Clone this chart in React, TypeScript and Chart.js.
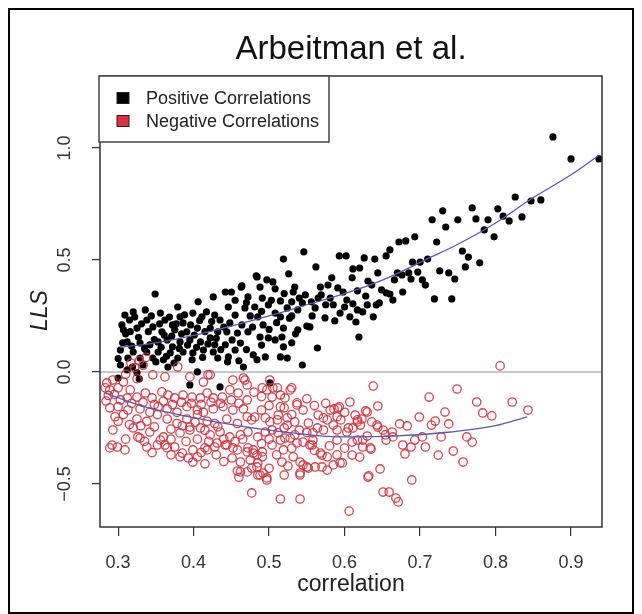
import React, { useEffect, useRef } from "react";
import { Chart, registerables } from "chart.js";

Chart.register(...registerables);

// ---------- data ----------
const X_MIN = 0.276;
const X_MAX = 0.941;
const Y_MIN = -0.692;
const Y_MAX = 1.321;
const X_TICK_STEP = 0.1;
const Y_TICK_STEP = 0.5;

const titleText = "Arbeitman et al.";
const xLabel = "correlation";
const yLabel = "LLS";
const legendLabels = ["Positive Correlations", "Negative Correlations"];

const positivePoints: [number, number][] = [
  [0.876,1.049],[0.900,0.951],[0.937,0.951],[0.826,0.781],[0.847,0.763],[0.860,0.768],[0.730,0.719],[0.769,0.732],
  [0.803,0.728],[0.716,0.679],[0.750,0.679],[0.774,0.683],[0.790,0.679],[0.810,0.696],[0.818,0.674],[0.835,0.692],
  [0.734,0.647],[0.785,0.634],[0.798,0.603],[0.672,0.580],[0.681,0.585],[0.693,0.603],[0.722,0.580],[0.660,0.545],
  [0.655,0.518],[0.626,0.509],[0.640,0.504],[0.756,0.540],[0.764,0.513],[0.779,0.487],[0.760,0.469],[0.690,0.490],
  [0.700,0.490],[0.710,0.504],[0.611,0.460],[0.620,0.464],[0.644,0.442],[0.670,0.442],[0.676,0.433],[0.685,0.442],
  [0.697,0.446],[0.726,0.451],[0.738,0.442],[0.746,0.415],[0.666,0.411],[0.688,0.415],[0.703,0.411],[0.707,0.388],
  [0.610,0.420],[0.631,0.406],[0.636,0.388],[0.617,0.362],[0.628,0.339],[0.649,0.366],[0.655,0.353],[0.660,0.348],
  [0.677,0.357],[0.664,0.321],[0.646,0.308],[0.611,0.304],[0.630,0.299],[0.642,0.299],[0.624,0.268],[0.638,0.246],
  [0.607,0.246],[0.615,0.223],[0.619,0.156],[0.719,0.326],[0.742,0.326],
  [0.546,0.536],[0.519,0.504],[0.593,0.518],[0.602,0.518],[0.562,0.469],[0.526,0.438],[0.484,0.424],[0.497,0.411],
  [0.505,0.402],[0.583,0.420],[0.463,0.379],[0.450,0.357],[0.488,0.379],[0.508,0.371],[0.534,0.379],[0.532,0.357],
  [0.548,0.344],[0.568,0.379],[0.578,0.388],[0.591,0.375],[0.598,0.357],[0.569,0.344],[0.581,0.330],[0.603,0.321],
  [0.472,0.335],[0.491,0.330],[0.515,0.317],[0.530,0.313],[0.544,0.308],[0.556,0.313],[0.446,0.290],[0.468,0.286],
  [0.481,0.290],[0.499,0.299],[0.524,0.286],[0.538,0.277],[0.561,0.286],[0.594,0.263],[0.617,0.277],[0.455,0.254],
  [0.475,0.250],[0.485,0.246],[0.508,0.263],[0.515,0.246],[0.530,0.250],[0.574,0.241],[0.587,0.228],[0.448,0.219],
  [0.464,0.210],[0.492,0.210],[0.519,0.196],[0.538,0.188],[0.550,0.205],[0.554,0.201],[0.444,0.179],[0.458,0.174],
  [0.472,0.179],[0.488,0.156],[0.499,0.152],[0.508,0.143],[0.517,0.156],[0.451,0.143],[0.462,0.129],[0.519,0.112],
  [0.442,0.121],[0.455,0.098],[0.479,0.076],[0.495,0.067],[0.515,0.067],[0.524,0.062],[0.446,0.067],[0.484,0.054],
  [0.564,0.107],[0.544,0.031],[0.466,0.022],[0.483,0.429],[0.464,0.384],
  [0.349,0.348],[0.379,0.290],[0.406,0.313],[0.426,0.335],[0.442,0.357],[0.320,0.268],[0.309,0.254],[0.315,0.232],
  [0.336,0.277],[0.338,0.232],[0.356,0.263],[0.362,0.232],[0.372,0.210],[0.382,0.246],[0.386,0.219],[0.399,0.263],
  [0.411,0.246],[0.417,0.268],[0.428,0.254],[0.435,0.232],[0.307,0.188],[0.325,0.196],[0.346,0.201],[0.358,0.179],
  [0.375,0.188],[0.391,0.179],[0.405,0.196],[0.422,0.196],[0.432,0.179],[0.312,0.134],[0.329,0.129],[0.342,0.121],
  [0.353,0.134],[0.365,0.143],[0.372,0.112],[0.382,0.134],[0.395,0.143],[0.409,0.134],[0.422,0.152],[0.428,0.121],
  [0.303,0.098],[0.320,0.089],[0.338,0.089],[0.353,0.089],[0.369,0.085],[0.386,0.089],[0.399,0.085],[0.413,0.098],
  [0.426,0.089],[0.313,0.062],[0.329,0.062],[0.346,0.062],[0.360,0.054],[0.379,0.062],[0.398,0.054],[0.432,0.062],
  [0.303,0.031],[0.319,0.022],[0.333,0.031],[0.366,0.022],[0.405,0.000],[0.312,0.009],[0.325,-0.004],[0.300,-0.027],
  [0.328,-0.031],[0.395,-0.058],[0.435,-0.067],[0.501,-0.049],
  [0.305,0.210],[0.310,0.170],[0.318,0.115],[0.322,0.245],[0.327,0.155],[0.331,0.215],[0.335,0.105],[0.340,0.180],
  [0.344,0.250],[0.348,0.145],[0.350,0.045],[0.355,0.215],[0.357,0.110],[0.361,0.165],[0.364,0.070],[0.368,0.245],
  [0.371,0.160],[0.374,0.040],[0.377,0.215],[0.381,0.105],[0.384,0.170],[0.388,0.255],[0.392,0.120],[0.396,0.210],
  [0.401,0.165],[0.404,0.110],[0.408,0.230],[0.412,0.065],[0.415,0.180],[0.419,0.125],[0.424,0.225],[0.430,0.150],
  [0.436,0.100],[0.440,0.200],[0.445,0.045],[0.300,0.060],[0.306,0.130],[0.316,0.180],
  [0.470,0.310],[0.478,0.200],[0.490,0.270],[0.503,0.320],[0.510,0.220],[0.520,0.350],[0.527,0.240],[0.535,0.170],
  [0.540,0.330],[0.557,0.250],[0.565,0.330],[0.575,0.300],[0.585,0.300],[0.600,0.290],[0.455,0.320],[0.500,0.190],
  [0.490,0.120],[0.530,0.130],[0.470,0.100],[0.460,0.050],
];

const negativePoints: [number, number][] = [
  [0.806,0.027],[0.638,-0.063],[0.749,-0.076],[0.712,-0.112],[0.775,-0.134],[0.822,-0.134],[0.843,-0.170],[0.783,-0.183],
  [0.795,-0.196],[0.733,-0.179],[0.607,-0.134],[0.644,-0.152],[0.628,-0.174],[0.699,-0.201],[0.720,-0.219],[0.715,-0.237],
  [0.738,-0.232],[0.617,-0.214],[0.623,-0.210],[0.611,-0.250],[0.636,-0.223],[0.643,-0.237],[0.673,-0.232],[0.683,-0.241],
  [0.663,-0.268],[0.651,-0.259],[0.630,-0.286],[0.617,-0.304],[0.655,-0.304],[0.693,-0.304],[0.703,-0.290],[0.728,-0.290],
  [0.762,-0.290],[0.769,-0.313],[0.624,-0.335],[0.635,-0.344],[0.677,-0.326],[0.688,-0.335],[0.707,-0.335],[0.610,-0.371],
  [0.680,-0.366],[0.724,-0.371],[0.744,-0.353],[0.757,-0.402],[0.647,-0.433],[0.632,-0.464],[0.689,-0.482],[0.651,-0.536],
  [0.659,-0.536],[0.668,-0.563],[0.671,-0.580],[0.606,-0.621],
  [0.501,-0.036],[0.491,-0.071],[0.497,-0.080],[0.505,-0.071],[0.468,-0.036],[0.530,-0.071],[0.471,-0.125],[0.504,-0.112],
  [0.515,-0.103],[0.521,-0.116],[0.537,-0.147],[0.545,-0.170],[0.565,-0.192],[0.586,-0.165],[0.593,-0.156],[0.614,-0.192],
  [0.630,-0.179],[0.481,-0.201],[0.477,-0.214],[0.495,-0.205],[0.501,-0.223],[0.512,-0.192],[0.524,-0.237],[0.534,-0.223],
  [0.552,-0.228],[0.577,-0.214],[0.585,-0.237],[0.595,-0.214],[0.605,-0.250],[0.621,-0.237],[0.644,-0.246],[0.654,-0.281],
  [0.664,-0.290],[0.472,-0.268],[0.485,-0.290],[0.495,-0.268],[0.512,-0.272],[0.521,-0.295],[0.534,-0.281],[0.545,-0.313],
  [0.557,-0.326],[0.558,-0.304],[0.590,-0.304],[0.610,-0.313],[0.624,-0.304],[0.634,-0.339],[0.570,-0.371],[0.585,-0.415],
  [0.597,-0.406],[0.472,-0.339],[0.479,-0.362],[0.491,-0.357],[0.517,-0.402],[0.545,-0.415],[0.552,-0.429],[0.577,-0.438],
  [0.477,-0.429],[0.485,-0.460],[0.497,-0.482],[0.541,-0.460],[0.631,-0.469],[0.477,-0.540],[0.515,-0.567],[0.541,-0.567],
  [0.422,-0.013],[0.413,-0.045],[0.452,-0.036],[0.285,-0.049],[0.293,-0.036],[0.307,-0.045],[0.283,-0.071],[0.289,-0.080],
  [0.300,-0.071],[0.316,-0.080],[0.317,0.040],[0.322,0.020],[0.328,0.050],[0.333,0.030],[0.337,0.065],[0.310,-0.010],
  [0.325,-0.030],[0.312,-0.116],[0.325,-0.112],[0.336,-0.094],[0.345,-0.116],[0.358,-0.089],[0.366,-0.103],[0.375,-0.116],
  [0.386,-0.103],[0.398,-0.112],[0.409,-0.116],[0.418,-0.094],[0.426,-0.116],[0.438,-0.112],[0.448,-0.080],[0.459,-0.094],
  [0.471,-0.058],[0.289,-0.160],[0.300,-0.155],[0.313,-0.170],[0.329,-0.165],[0.342,-0.180],[0.353,-0.155],[0.365,-0.165],
  [0.378,-0.180],[0.391,-0.155],[0.405,-0.170],[0.413,-0.180],[0.426,-0.165],[0.439,-0.155],[0.452,-0.170],[0.466,-0.165],
  [0.296,-0.200],[0.307,-0.190],[0.325,-0.210],[0.338,-0.220],[0.352,-0.190],[0.365,-0.210],[0.378,-0.230],[0.391,-0.210],
  [0.405,-0.190],[0.418,-0.220],[0.428,-0.230],[0.444,-0.210],[0.458,-0.230],[0.471,-0.200],[0.395,-0.246],[0.293,-0.259],
  [0.320,-0.250],[0.326,-0.290],[0.342,-0.268],[0.360,-0.290],[0.382,-0.272],[0.395,-0.259],[0.409,-0.250],[0.422,-0.281],
  [0.435,-0.268],[0.448,-0.290],[0.462,-0.281],[0.292,-0.326],[0.299,-0.335],[0.309,-0.348],[0.338,-0.335],[0.352,-0.326],
  [0.365,-0.339],[0.385,-0.362],[0.399,-0.348],[0.418,-0.348],[0.428,-0.335],[0.442,-0.326],[0.458,-0.348],[0.471,-0.357],
  [0.382,-0.379],[0.393,-0.384],[0.399,-0.402],[0.451,-0.384],[0.462,-0.402],[0.458,-0.442],[0.471,-0.446],[0.346,-0.013],
  [0.362,-0.022],[0.379,0.022],[0.395,-0.022],[0.419,-0.013],[0.466,-0.027],[0.289,-0.339],[0.329,-0.295],[0.356,-0.304],
  [0.362,-0.326],[0.375,-0.335],[0.405,-0.379],[0.415,-0.339],[0.431,-0.317],[0.444,-0.326],[0.452,-0.339],[0.479,-0.348],
  [0.484,-0.371],[0.491,-0.379],[0.485,-0.406],[0.462,-0.446],[0.488,-0.460],[0.497,-0.473],[0.511,-0.071],[0.528,-0.080],
  [0.537,-0.138],[0.515,-0.156],[0.572,-0.205],[0.581,-0.170],[0.591,-0.161],[0.617,-0.223],[0.511,-0.214],[0.524,-0.205],
  [0.504,-0.259],[0.515,-0.304],[0.528,-0.295],[0.537,-0.317],[0.554,-0.326],[0.558,-0.272],[0.564,-0.250],[0.572,-0.259],
  [0.590,-0.259],[0.603,-0.268],[0.568,-0.362],[0.577,-0.379],[0.594,-0.406],[0.504,-0.326],[0.519,-0.348],[0.532,-0.379],
  [0.541,-0.402],[0.541,-0.451],[0.550,-0.424],[0.561,-0.424],[0.570,-0.424],[0.475,-0.393],[0.484,-0.424],[0.492,-0.451],
  [0.284,-0.130],[0.287,-0.105],
  [0.295,-0.100],[0.303,-0.125],[0.318,-0.140],[0.333,-0.135],[0.348,-0.145],[0.360,-0.130],[0.372,-0.145],[0.384,-0.135],
  [0.397,-0.140],[0.410,-0.145],[0.423,-0.135],[0.436,-0.140],[0.450,-0.125],[0.460,-0.140],[0.300,-0.220],[0.315,-0.235],
  [0.330,-0.240],[0.348,-0.245],[0.370,-0.255],[0.385,-0.240],[0.402,-0.225],[0.415,-0.260],[0.432,-0.245],[0.440,-0.300],
  [0.455,-0.310],[0.465,-0.300],[0.310,-0.300],[0.335,-0.310],[0.370,-0.300],[0.390,-0.310],[0.405,-0.300],[0.420,-0.310],
  [0.345,-0.360],[0.370,-0.370],[0.410,-0.360],[0.430,-0.370],[0.440,-0.400],[0.415,-0.410],[0.500,-0.150],[0.490,-0.110],
  [0.480,-0.090],[0.520,-0.160],[0.550,-0.120],[0.560,-0.150],[0.575,-0.140],[0.600,-0.180],[0.590,-0.200],[0.530,-0.190],
  [0.490,-0.170],[0.540,-0.260],[0.550,-0.270],[0.520,-0.250],[0.500,-0.300],[0.490,-0.320],[0.530,-0.340],[0.560,-0.350],
  [0.580,-0.330],[0.600,-0.340],[0.620,-0.380],[0.590,-0.370],[0.510,-0.370],[0.525,-0.420],[0.500,-0.430],[0.460,-0.470],
  [0.520,-0.460],
];

const positiveFit: [number, number][] = [
  [0.303,0.11],[0.35,0.13],[0.40,0.163],[0.45,0.205],[0.50,0.25],[0.55,0.30],[0.607,0.357],[0.65,0.41],
  [0.713,0.51],[0.75,0.57],[0.80,0.665],[0.846,0.77],[0.90,0.88],[0.936,0.965],
];

const negativeFit: [number, number][] = [
  [0.283,-0.094],[0.33,-0.15],[0.38,-0.19],[0.439,-0.228],[0.50,-0.26],[0.572,-0.286],[0.607,-0.29],
  [0.67,-0.285],[0.74,-0.268],[0.80,-0.24],[0.842,-0.2],
];

const zeroLine: [number, number][] = [[X_MIN, 0], [X_MAX, 0]];

// ---------- styling ----------
const FONT = "'Liberation Sans', Arial, Helvetica, sans-serif";
const RED = "rgba(212,45,60,0.9)";
const FIT = "rgb(88,88,185)";

const toXY = (arr: [number, number][]) => arr.map(([x, y]) => ({ x, y }));

const decorPlugin = {
  id: "rDecor",
  afterDraw(chart: any) {
    const { ctx, chartArea: a, scales } = chart;
    ctx.save();
    // plot box
    ctx.strokeStyle = "#333";
    ctx.lineWidth = 1.5;
    ctx.strokeRect(a.left, a.top, a.right - a.left, a.bottom - a.top);
    // outer frame
    ctx.strokeStyle = "#000";
    ctx.lineWidth = 2;
    ctx.strokeRect(1, 1, chart.width - 2, chart.height - 2);

    // title
    const cx = (a.left + a.right) / 2;
    ctx.fillStyle = "#111";
    ctx.font = `33px ${FONT}`;
    ctx.textAlign = "center";
    ctx.textBaseline = "alphabetic";
    ctx.fillText(titleText, cx, 51);

    // x label
    ctx.fillStyle = "#222";
    ctx.font = `23px ${FONT}`;
    ctx.fillText(xLabel, cx, 583);

    // y label (italic, rotated)
    ctx.save();
    ctx.translate(33, (a.top + a.bottom) / 2 + 9);
    ctx.rotate(-Math.PI / 2);
    ctx.font = `italic 23px ${FONT}`;
    ctx.textBaseline = "middle";
    ctx.fillText(yLabel, 0, 0);
    ctx.restore();

    // y tick labels, rotated like R
    const ys = scales.y;
    ctx.font = `18px ${FONT}`;
    ctx.fillStyle = "#333";
    for (const t of ys.ticks) {
      const py = ys.getPixelForValue(t.value);
      const txt = (t.value < 0 ? "\u2212" : "") + Math.abs(t.value).toFixed(1);
      ctx.save();
      ctx.translate(57, py);
      ctx.rotate(-Math.PI / 2);
      ctx.textAlign = "center";
      ctx.textBaseline = "middle";
      ctx.fillText(txt, 0, 0);
      ctx.restore();
    }

    // legend
    const lx = a.left - 1;
    const ly = a.top;
    ctx.fillStyle = "#fff";
    ctx.fillRect(lx, ly, 230, 66);
    ctx.strokeStyle = "#444";
    ctx.lineWidth = 1.5;
    ctx.strokeRect(lx, ly, 230, 66);
    const rows = [ly + 22, ly + 45];
    const fills = ["#000", "#e0303a"];
    ctx.font = `18px ${FONT}`;
    ctx.textAlign = "left";
    ctx.textBaseline = "middle";
    rows.forEach((ry, i) => {
      ctx.fillStyle = fills[i];
      ctx.fillRect(lx + 18, ry - 5.5, 12, 11);
      ctx.strokeStyle = "#222";
      ctx.lineWidth = 1;
      ctx.strokeRect(lx + 18, ry - 5.5, 12, 11);
      ctx.fillStyle = "#222";
      ctx.fillText(legendLabels[i], lx + 47, ry + 1);
    });
    ctx.restore();
  },
};

export default function App() {
  const canvasRef = useRef<HTMLCanvasElement | null>(null);

  useEffect(() => {
    if (!canvasRef.current) return;
    const chart = new Chart(canvasRef.current, {
      type: "scatter",
      data: {
        datasets: [
          {
            type: "line",
            label: "zero",
            data: toXY(zeroLine),
            borderColor: "#b4b4b4",
            borderWidth: 1.5,
            pointRadius: 0,
            showLine: true,
            order: 5,
          } as any,
          {
            label: legendLabels[0],
            data: toXY(positivePoints),
            backgroundColor: "#000",
            borderWidth: 0,
            pointRadius: 3.6,
            order: 4,
          },
          {
            label: legendLabels[1],
            data: toXY(negativePoints),
            backgroundColor: "rgba(0,0,0,0)",
            borderColor: RED,
            borderWidth: 1.3,
            pointRadius: 4.2,
            order: 3,
          },
          {
            type: "line",
            label: "fitPos",
            data: toXY(positiveFit),
            borderColor: FIT,
            borderWidth: 1.3,
            pointRadius: 0,
            showLine: true,
            cubicInterpolationMode: "monotone",
            order: 2,
          } as any,
          {
            type: "line",
            label: "fitNeg",
            data: toXY(negativeFit),
            borderColor: FIT,
            borderWidth: 1.3,
            pointRadius: 0,
            showLine: true,
            cubicInterpolationMode: "monotone",
            order: 1,
          } as any,
        ],
      },
      options: {
        animation: false,
        responsive: true,
        maintainAspectRatio: false,
        events: [],
        layout: { padding: { top: 68, right: 32, left: 0, bottom: 0 } },
        plugins: {
          legend: { display: false },
          tooltip: { enabled: false },
          title: { display: false },
        },
        scales: {
          x: {
            type: "linear",
            min: X_MIN,
            max: X_MAX,
            border: { display: false },
            grid: {
              drawOnChartArea: false,
              drawTicks: true,
              tickLength: 9,
              color: "#333",
              lineWidth: 1.2,
            },
            ticks: {
              stepSize: X_TICK_STEP,
              includeBounds: false,
              autoSkip: false,
              maxRotation: 0,
              padding: 16,
              color: "#333",
              font: { family: FONT, size: 18 },
              callback: (v: any) => Number(v).toFixed(1),
            },
            afterFit: (s: any) => {
              s.height = 87;
            },
          },
          y: {
            type: "linear",
            min: Y_MIN,
            max: Y_MAX,
            border: { display: false },
            grid: {
              drawOnChartArea: false,
              drawTicks: true,
              tickLength: 8,
              color: "#333",
              lineWidth: 1.2,
            },
            ticks: {
              stepSize: Y_TICK_STEP,
              includeBounds: false,
              display: false,
            },
            afterFit: (s: any) => {
              s.width = 92;
            },
          },
        },
      },
      plugins: [decorPlugin],
    } as any);
    return () => chart.destroy();
  }, []);

  return (
    <div style={{ width: 626, height: 606, position: "relative" }}>
      <canvas ref={canvasRef} />
    </div>
  );
}
